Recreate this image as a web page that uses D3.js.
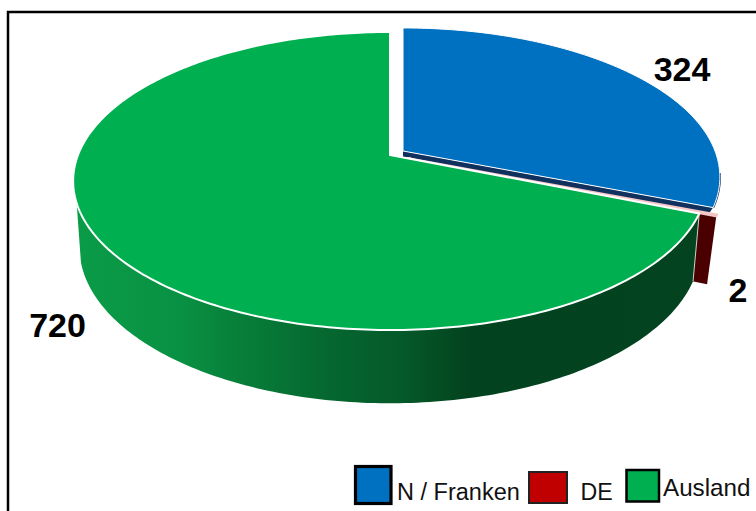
<!DOCTYPE html>
<html><head><meta charset="utf-8">
<script src="https://cdn.jsdelivr.net/npm/d3@7"></script>
<style>html,body{margin:0;padding:0;background:#fff}svg{display:block}text{font-family:"Liberation Sans",Arial,sans-serif}</style>
</head><body>
<svg id="c" width="756" height="511"></svg>
<script>
const categories = ["N / Franken", "DE", "Ausland"];
const values = [324, 2, 720];
const topColors = ["#0070c0", "#c00000", "#00b050"];
const wallColors = ["#10305e", "#4a0000", "#00b050"];
const labelText = ["324", "2", "720"];

const svg = d3.select("#c");
const W = 756, H = 511;
svg.append("rect").attr("x",8).attr("y",12).attr("width",W+20).attr("height",H+20).attr("fill","#fff").attr("stroke","#000").attr("stroke-width",2.5);

// Perspective disc
const R = 312, S = 144.5, K = 0.1745;
const proj = a => { const u=Math.sin(a), v=-Math.cos(a), w=1/(1-K*v); return [R*u*w, S*v*w]; };
const apex = [{x:403,y:151,dx:0,sx:0.98,sy:1,d:9},{x:407,y:158,dx:-3,sx:0.98,sy:1.047,d:65},{x:390,y:155,dx:0,sx:0.98,sy:1.047,d:65}];
const pie = d3.pie().sort(null)(values);
const line = d3.line();
const samples = (a0,a1) => { const n=Math.max(2,Math.ceil((a1-a0)*60)); return d3.range(n+1).map(i=>a0+(a1-a0)*i/n); };
const topPt = (i,a) => { const p=proj(a); return [apex[i].x+p[0], apex[i].y+p[1]]; };
const botPt = (i,a) => { const s=apex[i], p=proj(a); return [s.x+s.dx+p[0]*s.sx, s.y+s.d+p[1]*s.sy]; };
const botApex = i => [apex[i].x+apex[i].dx, apex[i].y+apex[i].d];

// Green side gradient
const grad = svg.append("defs").append("linearGradient").attr("id","side").attr("gradientUnits","userSpaceOnUse")
  .attr("x1",73).attr("x2",700).attr("y1",0).attr("y2",0);
[[0,"#0a9c48"],[.17,"#099143"],[.28,"#077c38"],[.41,"#05672f"],[.52,"#055a2a"],[.635,"#03421e"],[1,"#03431f"]]
  .forEach(s=>grad.append("stop").attr("offset",s[0]).attr("stop-color",s[1]));

// Cut faces of blue and red slices
[0,1].forEach(i=>{
  const a=pie[i].endAngle;
  svg.append("path").attr("d",line([[apex[i].x,apex[i].y],topPt(i,a),botPt(i,a),botApex(i)])+"Z")
    .attr("fill",wallColors[i]);
});
// Thin rim of the blue slice's outer side
svg.append("path").attr("d",line(samples(1.72,pie[0].endAngle).map(a=>topPt(0,a))))
  .attr("fill","none").attr("stroke",wallColors[0]).attr("stroke-width",2.2);
// Green outer wall: the left end runs straight from the top rim to the lower rim
{ const i=2,a0=pie[i].startAngle;
  const pts=samples(a0,3*Math.PI/2-0.32).map(a=>topPt(i,a)).concat(samples(a0,3*Math.PI/2-0.27).reverse().map(a=>botPt(i,a)));
  svg.append("path").attr("d",line(pts)+"Z").attr("fill","url(#side)");
  svg.append("path").attr("d",line([topPt(i,a0),botPt(i,a0)])).attr("stroke","#dfe8e0").attr("stroke-width",0.9).attr("fill","none");
}
// Top faces
[1,2,0].forEach(i=>{
  const pts=[[apex[i].x,apex[i].y]].concat(samples(pie[i].startAngle,pie[i].endAngle).map(a=>topPt(i,a)));
  svg.append("path").attr("d",line(pts)+"Z").attr("fill",topColors[i]).attr("stroke",i==1?"#f4c8c8":"#fff").attr("stroke-width",i==0?1:2);
});

// Value labels
const labelPos = [[682,81],[738,302],[57.5,337]];
labelText.forEach((t,i)=>svg.append("text").attr("x",labelPos[i][0]).attr("y",labelPos[i][1]).attr("text-anchor","middle")
  .attr("font-size",34).attr("font-weight","bold").attr("fill","#000").text(t));

// Legend
const boxes = [[355.5,466.5,35.5,37,3.2],[529,472,38,31,2],[626.5,470,32.5,31.5,2.5]];
const legendText = [[397,500,23.5],[580.5,499.5,23.2],[663,495.5,24.2]];
categories.forEach((c,i)=>{
  const b=boxes[i];
  svg.append("rect").attr("x",b[0]).attr("y",b[1]).attr("width",b[2]).attr("height",b[3]).attr("fill",topColors[i]).attr("stroke",i==1?"#222":"#000").attr("stroke-width",b[4]);
  svg.append("text").attr("x",legendText[i][0]).attr("y",legendText[i][1]).attr("font-size",legendText[i][2]).attr("fill","#111").text(c);
});
</script>
</body></html>
